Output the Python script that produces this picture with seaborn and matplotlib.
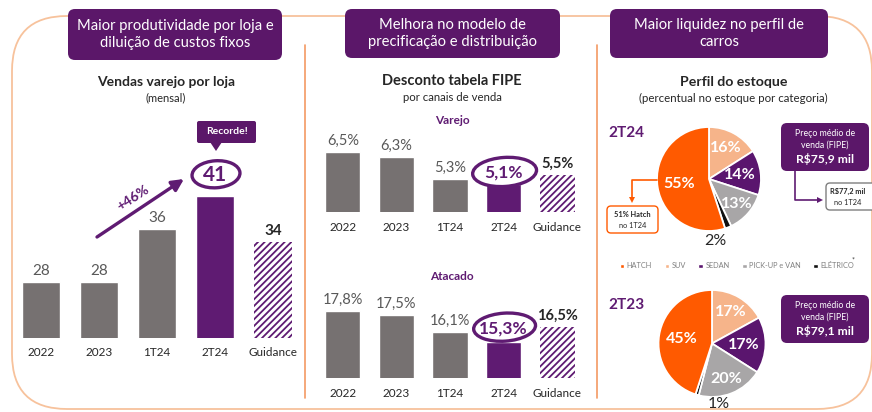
import numpy as np
import pandas as pd
import matplotlib
matplotlib.use("Agg")
import matplotlib.pyplot as plt
import seaborn as sns
from matplotlib.patches import FancyBboxPatch, Polygon, Patch, Ellipse

# ---------------- data ----------------
categories = ["2022", "2023", "1T24", "2T24", "Guidance"]
vendas_por_loja = [28, 28, 36, 41, 34]
desconto_varejo = [6.5, 6.3, 5.3, 5.1, 5.5]
desconto_atacado = [17.8, 17.5, 16.1, 15.3, 16.5]

segmentos = ["HATCH", "SUV", "SEDAN", "PICK-UP e VAN", "ELÉTRICO"]
estoque_2t24 = [55, 16, 14, 13, 2]
estoque_2t23 = [45, 17, 17, 20, 1]

preco_2t24 = "R$75,9 mil"
preco_2t23 = "R$79,1 mil"
preco_1t24 = "R$77,2 mil"
hatch_1t24 = "51% Hatch"

# ---------------- style ----------------
sns.set_style("white")
plt.rcParams["font.family"] = ["Lato", "DejaVu Sans"]
plt.rcParams["hatch.linewidth"] = 1.3

GRAY = "#767171"
PURPLE = "#5F1B72"
BOXPURPLE = "#5B1769"
DARK = "#262626"
LBL = "#595959"
ORANGE = "#FF5A00"
seg_colors = [ORANGE, "#F6B48A", "#5A156E", "#A8A6A7", "#111111"]

W, H = 872, 412
fig = plt.figure(figsize=(W / 100, H / 100), dpi=100)
fig.patch.set_facecolor("white")


def px_axes(l, t, r, b):
    return fig.add_axes([l / W, 1 - b / H, (r - l) / W, (b - t) / H])


def fmt_pct(v):
    return f"{v:.1f}".replace(".", ",") + "%"


def bar_panel(ax, vals, ylim, fmt, fs_val, fs_hi, tick_pad, hi_off, off=3):
    df = pd.DataFrame({"cat": categories, "val": vals})
    colors = [GRAY, GRAY, GRAY, PURPLE, "white"]
    sns.barplot(data=df, x="cat", y="val", hue="cat", palette=colors,
                legend=False, width=0.66, saturation=1, ax=ax)
    ax.set_xlim(-0.5, 4.5)
    ax.set_ylim(*ylim)
    for p in ax.patches:
        cx = p.get_x() + p.get_width() / 2
        if abs(cx - 4) < 0.01:
            p.set_facecolor("white")
            p.set_edgecolor(PURPLE)
            p.set_hatch("/////")
            p.set_linewidth(0)
    ax.set_xlabel("")
    ax.set_ylabel("")
    ax.set_yticks([])
    ax.set_xticks(range(len(categories)))
    ax.set_xticklabels(categories, fontsize=8.5, color=DARK)
    ax.tick_params(axis="x", length=0, pad=tick_pad)
    for s in ax.spines.values():
        s.set_visible(False)
    ax.patch.set_visible(False)
    for i, v in enumerate(vals):
        if i == 3:
            ax.annotate(fmt(v), (i, v), xytext=(0, hi_off), textcoords="offset points",
                        ha="center", va="center", fontsize=fs_hi, fontweight="bold",
                        color=PURPLE)
        elif i == 4:
            ax.annotate(fmt(v), (i, v), xytext=(0, off), textcoords="offset points",
                        ha="center", va="bottom", fontsize=fs_val, fontweight="bold",
                        color=DARK)
        else:
            ax.annotate(fmt(v), (i, v), xytext=(0, off), textcoords="offset points",
                        ha="center", va="bottom", fontsize=fs_val, color=LBL)


# ---------------- panel 1 ----------------
ax1 = px_axes(12, 130, 302, 338)
bar_panel(ax1, vendas_por_loja, (19.5, 19.5 + 208 / 6.6), lambda v: f"{v}",
          fs_val=11, fs_hi=15, tick_pad=6.5, hi_off=15)

# ---------------- panel 2 ----------------
ax2 = px_axes(316, 135, 584, 212)
bar_panel(ax2, desconto_varejo, (3.88, 3.88 + 77 / 22.9), fmt_pct,
          fs_val=10.5, fs_hi=12.5, tick_pad=7, hi_off=8)
ax3 = px_axes(316, 295, 584, 378)
bar_panel(ax3, desconto_atacado, (12.4, 12.4 + 83 / 12.4), fmt_pct,
          fs_val=10.5, fs_hi=12.5, tick_pad=7, hi_off=10)

# ---------------- panel 3 (pies) ----------------
order = [1, 2, 3, 4, 0]  # clockwise from top: SUV, SEDAN, PICK-UP, ELETRICO, HATCH
label_dist = {0: 0.58, 1: 0.68, 2: 0.6, 3: 0.72}


def pie_panel(ax, vals, small_y):
    v = [vals[i] for i in order]
    c = [seg_colors[i] for i in order]
    wedges, _ = ax.pie(v, colors=c, startangle=90, counterclock=False,
                       wedgeprops=dict(edgecolor="white", linewidth=1.3))
    ax.set_xlim(-1, 1)
    ax.set_ylim(-1, 1)
    ax.set_aspect("equal")
    for w, idx in zip(wedges, order):
        ang = np.deg2rad((w.theta1 + w.theta2) / 2)
        if idx == 4:
            ax.text(0.13, small_y, f"{vals[idx]}%", ha="center", va="center",
                    fontsize=11.5, color=DARK, clip_on=False)
        else:
            d = label_dist[idx]
            ax.text(d * np.cos(ang), d * np.sin(ang), f"{vals[idx]}%", ha="center",
                    va="center", fontsize=11.5, color="white", fontweight="bold")


axp1 = px_axes(657, 127, 761, 231)
pie_panel(axp1, estoque_2t24, -1.19)
axp2 = px_axes(658, 290, 766, 397)
pie_panel(axp2, estoque_2t23, -1.13)

handles = [Patch(facecolor=c) for c in seg_colors]
fig.legend(handles, segmentos, loc="center", bbox_to_anchor=(737 / W, 1 - 266 / H),
           ncol=5, frameon=False, fontsize=5.3, handlelength=0.6, handleheight=0.6,
           handletextpad=0.35, columnspacing=1.7, labelcolor="#808080")

# ---------------- overlay decorations ----------------
ov = fig.add_axes([0, 0, 1, 1])
ov.set_xlim(0, W)
ov.set_ylim(H, 0)
ov.axis("off")
ov.set_zorder(10)

# circles around 2T24 highlights
for ax, vals, off_pt, ew, eh in ((ax1, vendas_por_loja, 15, 48, 27),
                                  (ax2, desconto_varejo, 8, 64, 29),
                                  (ax3, desconto_atacado, 10, 62, 28)):
    disp = ax.transData.transform((3, vals[3]))
    disp = (disp[0], disp[1] + off_pt * 100 / 72)
    cx, cy = ov.transData.inverted().transform(disp)
    ov.add_patch(Ellipse((cx + 1, cy - 1), ew, eh, angle=-4, fc="none", ec=PURPLE, lw=2.4))

# frame
ov.add_patch(FancyBboxPatch((12, 16), 860, 393, boxstyle="round,pad=0,rounding_size=55",
                            fc="none", ec="#F7C29C", lw=1.3))
for x in (305, 597):
    ov.plot([x, x], [45, 398], color="#F39A63", lw=1.2)


def title_box(x0, x1, y0, y1, text):
    ov.add_patch(FancyBboxPatch((x0, y0), x1 - x0, y1 - y0,
                                boxstyle="round,pad=0,rounding_size=7",
                                fc=BOXPURPLE, ec="none"))
    ov.text((x0 + x1) / 2, (y0 + y1) / 2, text, ha="center", va="center",
            color="white", fontsize=10.6, linespacing=1.35)


title_box(68, 282, 9, 60, "Maior produtividade por loja e\ndiluição de custos fixos")
title_box(345, 560, 9, 58, "Melhora no modelo de\nprecificação e distribuição")
title_box(610, 828, 9, 58, "Maior liquidez no perfil de\ncarros")

ov.text(166, 82, "Vendas varejo por loja", ha="center", va="center", fontsize=10,
        fontweight="bold", color=DARK)
ov.text(166, 98, "(mensal)", ha="center", va="center", fontsize=8, color=DARK)
ov.text(452, 81, "Desconto tabela FIPE", ha="center", va="center", fontsize=10.5,
        fontweight="bold", color=DARK)
ov.text(452, 97, "por canais de venda", ha="center", va="center", fontsize=8.2, color=DARK)
ov.text(452, 120, "Varejo", ha="center", va="center", fontsize=8.5, fontweight="bold",
        color=PURPLE)
ov.text(452, 276, "Atacado", ha="center", va="center", fontsize=8.5, fontweight="bold",
        color=PURPLE)
ov.text(734, 82, "Perfil do estoque", ha="center", va="center", fontsize=10.2,
        fontweight="bold", color=DARK)
ov.text(733, 98, "(percentual no estoque por categoria)", ha="center", va="center",
        fontsize=8.3, color=DARK)
ov.text(626, 133, "2T24", ha="center", va="center", fontsize=11, fontweight="bold",
        color=PURPLE)
ov.text(626, 305, "2T23", ha="center", va="center", fontsize=11, fontweight="bold",
        color=PURPLE)
ov.text(853, 260, "*", ha="center", va="center", fontsize=5, color="#333333")

# Recorde! callout
ov.add_patch(FancyBboxPatch((197, 121), 59, 22, boxstyle="round,pad=0,rounding_size=2",
                            fc=BOXPURPLE, ec="none"))
ov.add_patch(Polygon([(210, 142), (222, 142), (216, 151)], closed=True, fc=BOXPURPLE,
                     ec="none"))
ov.text(226.5, 132, "Recorde!", ha="center", va="center", fontsize=7.5, fontweight="bold",
        color="white")

# +46% arrow
ov.annotate("", xy=(184, 179), xytext=(97, 237),
            arrowprops=dict(arrowstyle="-|>,head_length=0.7,head_width=0.35",
                            color=PURPLE, lw=2.4, shrinkA=0, shrinkB=0))
ov.text(133, 198, "+46%", ha="center", va="center", fontsize=10, fontweight="bold",
        color=PURPLE, rotation=33)

# price boxes
def price_box(y0, price):
    ov.add_patch(FancyBboxPatch((781, y0), 88, 48, boxstyle="round,pad=0,rounding_size=6",
                                fc=BOXPURPLE, ec="none"))
    ov.text(825, y0 + 10, "Preço médio de", ha="center", va="center", fontsize=6.3,
            color="white")
    ov.text(825, y0 + 22, "venda (FIPE)", ha="center", va="center", fontsize=6.3,
            color="white")
    ov.text(825, y0 + 36, price, ha="center", va="center", fontsize=8.7,
            fontweight="bold", color="white")


price_box(123, preco_2t24)
price_box(295, preco_2t23)

# 1T24 price reference
ov.plot([795, 795, 818], [171, 200, 200], color=PURPLE, lw=1.2)
ov.add_patch(Polygon([(817, 197), (823, 200), (817, 203)], closed=True, fc=PURPLE, ec="none"))
ov.add_patch(FancyBboxPatch((826, 183), 50, 27, boxstyle="round,pad=0,rounding_size=4",
                            fc="white", ec="#7F7F7F", lw=1.0))
ov.text(848, 191, preco_1t24, ha="center", va="center", fontsize=5.3, fontweight="bold",
        color=DARK)
ov.text(848, 202, "no 1T24", ha="center", va="center", fontsize=5.3, color=DARK)

# 51% hatch reference
ov.plot([657, 632, 632], [180, 180, 198], color=ORANGE, lw=1.2)
ov.add_patch(Polygon([(629, 197), (635, 197), (632, 203)], closed=True, fc=ORANGE, ec="none"))
ov.add_patch(FancyBboxPatch((607, 206), 51, 27, boxstyle="round,pad=0,rounding_size=4",
                            fc="white", ec=ORANGE, lw=1.0))
ov.text(632.5, 214, hatch_1t24, ha="center", va="center", fontsize=5.3, fontweight="bold",
        color=DARK)
ov.text(632.5, 225, "no 1T24", ha="center", va="center", fontsize=5.3, color=DARK)

fig.savefig("out.png", dpi=100, facecolor="white")
